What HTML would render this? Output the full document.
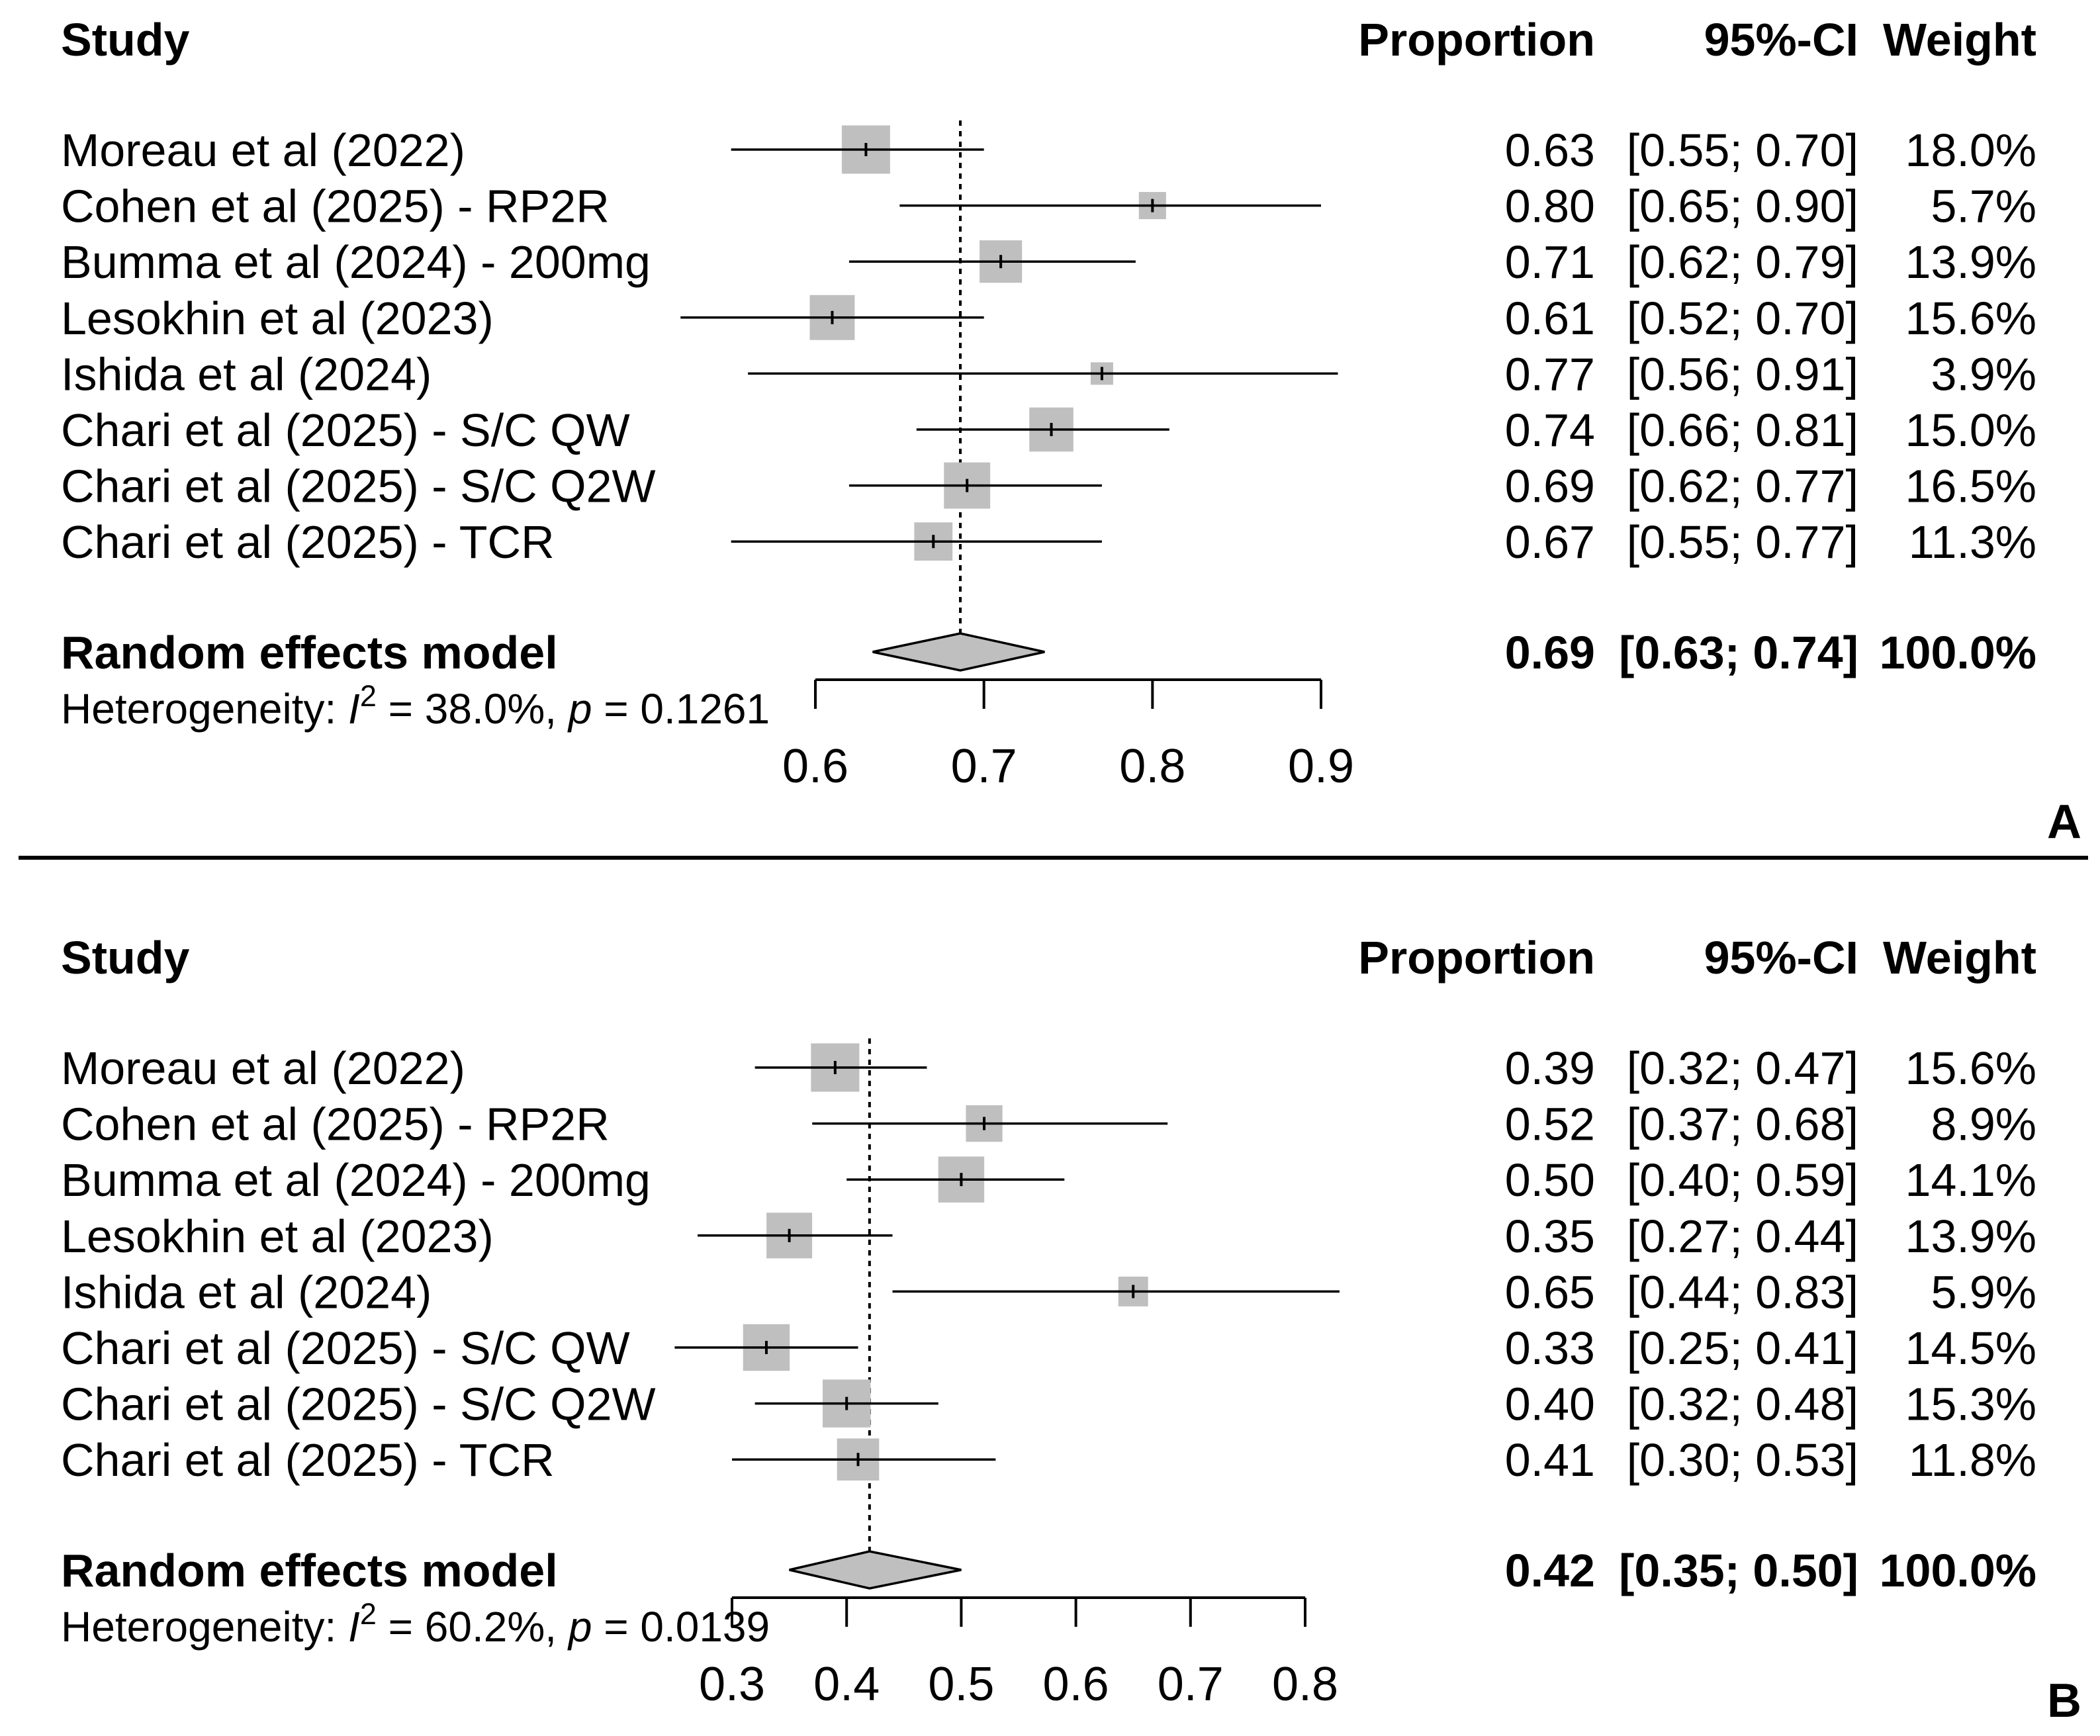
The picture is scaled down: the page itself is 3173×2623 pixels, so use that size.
<!DOCTYPE html>
<html><head><meta charset="utf-8"><style>
html,body{margin:0;padding:0;background:#fff}
svg{display:block;font-family:"Liberation Sans",Arial,sans-serif}
</style></head><body>
<svg id="c" width="3173" height="2623" viewBox="0 0 3173 2623" xmlns="http://www.w3.org/2000/svg"></svg>
<script>
const studies = ["Moreau et al (2022)","Cohen et al (2025) - RP2R","Bumma et al (2024) - 200mg","Lesokhin et al (2023)","Ishida et al (2024)","Chari et al (2025) - S/C QW","Chari et al (2025) - S/C Q2W","Chari et al (2025) - TCR"];
const propA = [0.63,0.80,0.71,0.61,0.77,0.74,0.69,0.67];
const lowA = [0.55,0.65,0.62,0.52,0.56,0.66,0.62,0.55];
const highA = [0.70,0.90,0.79,0.70,0.91,0.81,0.77,0.77];
const weightA = [18.0,5.7,13.9,15.6,3.9,15.0,16.5,11.3];
const pooledA = [0.686,0.634,0.736];
const ticksA = [0.6,0.7,0.8,0.9];
const hetA = ["38.0%","0.1261"];
const propB = [0.39,0.52,0.50,0.35,0.65,0.33,0.40,0.41];
const lowB = [0.32,0.37,0.40,0.27,0.44,0.25,0.32,0.30];
const highB = [0.47,0.68,0.59,0.44,0.83,0.41,0.48,0.53];
const weightB = [15.6,8.9,14.1,13.9,5.9,14.5,15.3,11.8];
const pooledB = [0.42,0.35,0.50];
const ticksB = [0.3,0.4,0.5,0.6,0.7,0.8];
const hetB = ["60.2%","0.0139"];

const svg = document.getElementById('c');
const NS = 'http://www.w3.org/2000/svg';
function mk(tag, attrs, parent){const e=document.createElementNS(NS,tag);for(const k in attrs)e.setAttribute(k,attrs[k]);(parent||svg).appendChild(e);return e;}
function txt(s,x,y,size,anchor,bold,parent){const t=mk('text',{x:x,y:y,'font-size':size,'text-anchor':anchor||'start','font-weight':bold?'bold':'normal',fill:'#000'},parent);t.textContent=s;return t;}
const f2=v=>v.toFixed(2);
const RP=2410, RC=2808, RW=3077;

function panel(top, prop, low, high, weight, pooled, ticks, het, x0v, x1v, x0p, x1p, k, label, labelY){
  const g = mk('g',{});
  
  
  const X = v => x0p + (v-x0v)/(x1v-x0v)*(x1p-x0p);
  const rowY = i => top + 167 + i*84.6;
  const reY = top + 926;
  const axY = top + 968;
  let h;
  h=txt('Study',92,top+25,70,'start',true,g);
  
  
  h=txt('Proportion',RP,top+25,70,'end',true,g);
  
  
  h=txt('95%-CI',RC,top+25,70,'end',true,g);
  
  
  h=txt('Weight',RW,top+25,70,'end',true,g);
  
  
  const dl = mk('line',{x1:X(pooled[0]),x2:X(pooled[0]),y1:top+123,y2:reY-28,stroke:'#000','stroke-width':4,'stroke-dasharray':'8,8'},g);
  
  
  for(let i=0;i<studies.length;i++){
    const y=rowY(i);
    const r=mk('g',{},g);
    
    
    txt(studies[i],92,y+25,70,'start',false,r);
    const s=k*Math.sqrt(weight[i]);
    const sq=mk('rect',{x:X(prop[i])-s/2,y:y-s/2,width:s,height:s,fill:'#bfbfbf'},r);
    
    
    const ci=mk('line',{x1:X(low[i]),x2:X(high[i]),y1:y,y2:y,stroke:'#000','stroke-width':3.5},r);
    
    
    const pt=mk('line',{x1:X(prop[i]),x2:X(prop[i]),y1:y-10,y2:y+10,stroke:'#000','stroke-width':4},r);
    
    
    txt(f2(prop[i]),RP,y+25,70,'end',false,r);
    txt('['+f2(low[i])+'; '+f2(high[i])+']',RC,y+25,70,'end',false,r);
    txt(weight[i].toFixed(1)+'%',RW,y+25,70,'end',false,r);
  }
  h=txt('Random effects model',92,reY+25,70,'start',true,g);
  
  
  const dm=mk('polygon',{points:`${X(pooled[1])},${reY} ${X(pooled[0])},${reY-28} ${X(pooled[2])},${reY} ${X(pooled[0])},${reY+28}`,fill:'#bfbfbf',stroke:'#000','stroke-width':3.5},g);
  
  
  txt(f2(pooled[0]),RP,reY+25,70,'end',true,g);
  txt('['+f2(pooled[1])+'; '+f2(pooled[2])+']',RC,reY+25,70,'end',true,g);
  txt('100.0%',RW,reY+25,70,'end',true,g);
  const ht=mk('text',{x:92,y:axY+66,'font-size':64,fill:'#000'},g);
  
  
  ht.innerHTML='Heterogeneity: <tspan font-style="italic">I</tspan><tspan dy="-26" font-size="45">2</tspan><tspan dy="26"> = '+het[0]+', </tspan><tspan font-style="italic">p</tspan> = '+het[1];
  const ax=mk('g',{},g);
  
  
  mk('line',{x1:X(ticks[0]),x2:X(ticks[ticks.length-1]),y1:axY,y2:axY,stroke:'#000','stroke-width':4},ax);
  ticks.forEach(t=>{
    mk('line',{x1:X(t),x2:X(t),y1:axY,y2:axY+44,stroke:'#000','stroke-width':4},ax);
    txt(t.toFixed(1),X(t),axY+155,72,'middle',false,ax);
  });
  const L=txt(label,3145,labelY,72,'end',true,g);
  
  
}
panel(59, propA, lowA, highA, weightA, pooledA, ticksA, hetA, 0.6, 0.9, 1232, 1996, 17.2, 'A', 1266);
const sep=mk('line',{x1:28,x2:3155,y1:1296,y2:1296,stroke:'#000','stroke-width':6});


panel(1446, propB, lowB, highB, weightB, pooledB, ticksB, hetB, 0.3, 0.8, 1106, 1972, 18.5, 'B', 2594);
</script>
</body></html>
